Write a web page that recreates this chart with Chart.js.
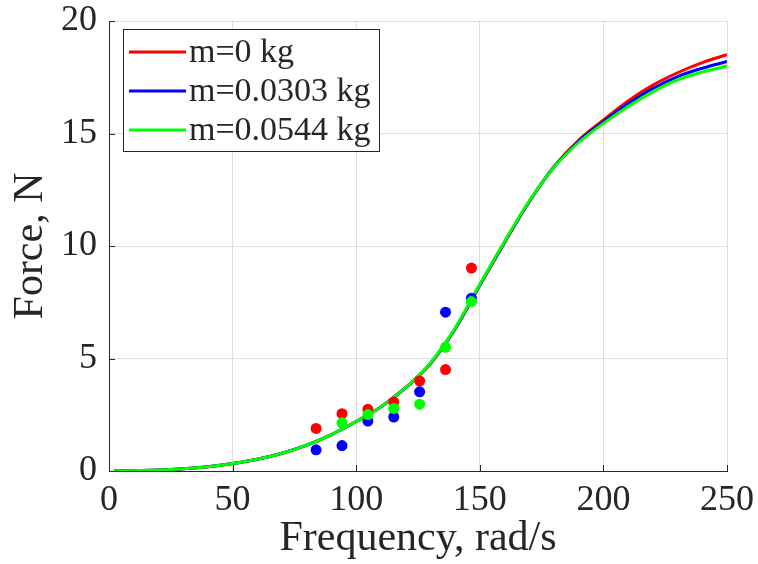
<!DOCTYPE html>
<html>
<head>
<meta charset="utf-8">
<script src="https://cdn.jsdelivr.net/npm/chart.js@4/dist/chart.umd.min.js"></script>
<style>
  html, body { margin: 0; padding: 0; background: #ffffff; }
  #wrap { width: 758px; height: 564px; }
</style>
</head>
<body>
<div id="wrap"><canvas id="c" width="758" height="564"></canvas></div>
<script>
// Model curves: force vs. rotational frequency for three added masses
const curveFreq = [2, 10, 20, 30, 40, 50, 60, 70, 80, 90, 100, 110, 120, 130, 140, 150, 160, 170, 180, 190, 200, 210, 220, 230, 240, 250];
const forceM0    = [0, 0.01, 0.04, 0.10, 0.19, 0.33, 0.52, 0.79, 1.15, 1.62, 2.2, 2.85, 3.7, 4.77, 6.30, 8.25, 10.15, 11.97, 13.52, 14.70, 15.60, 16.45, 17.15, 17.70, 18.15, 18.50];
const forceM0303 = [0, 0.01, 0.04, 0.10, 0.19, 0.33, 0.52, 0.79, 1.15, 1.62, 2.2, 2.85, 3.7, 4.78, 6.32, 8.27, 10.17, 11.98, 13.51, 14.65, 15.52, 16.32, 17.00, 17.53, 17.90, 18.20];
const forceM0544 = [0, 0.01, 0.04, 0.10, 0.19, 0.33, 0.52, 0.79, 1.15, 1.62, 2.2, 2.85, 3.7, 4.80, 6.35, 8.30, 10.20, 12.00, 13.50, 14.60, 15.45, 16.20, 16.85, 17.38, 17.73, 18.00];

// Measured points (800 ... 1400 rpm)
const measFreq     = [83.78, 94.25, 104.72, 115.19, 125.66, 136.14, 146.61];
const measM0       = [1.89, 2.55, 2.74, 3.07, 4.00, 4.51, 9.02];
const measM0303    = [0.94, 1.13, 2.22, 2.40, 3.52, 7.06, 7.68];
const measM0544    = [null, 2.14, 2.51, 2.78, 2.97, 5.50, 7.53];

const seriesLabels = ['m=0 kg', 'm=0.0303 kg', 'm=0.0544 kg'];
const seriesColors = ['#ff0000', '#0000ff', '#00ff00'];

const xTicks = [0, 50, 100, 150, 200, 250];
const yTicks = [0, 5, 10, 15, 20];

const SERIF = '"Liberation Serif", "Times New Roman", serif';
const INK = '#262626';

function pts(xs, ys) {
  const out = [];
  xs.forEach((x, i) => { if (ys[i] !== null) out.push({ x: x, y: ys[i] }); });
  return out;
}

const curves = [forceM0, forceM0303, forceM0544];
const meas = [measM0, measM0303, measM0544];

const datasets = [];
curves.forEach((ys, i) => {
  datasets.push({
    label: seriesLabels[i],
    data: pts(curveFreq, ys),
    showLine: true,
    borderColor: seriesColors[i],
    backgroundColor: seriesColors[i],
    borderWidth: 3,
    pointRadius: 0,
    cubicInterpolationMode: 'monotone',
    order: 5 - i,
    isCurve: true
  });
});
meas.forEach((ys, i) => {
  datasets.push({
    label: seriesLabels[i] + ' (measured)',
    data: pts(measFreq, ys),
    showLine: false,
    pointRadius: 5.5,
    pointBorderWidth: 0,
    pointBackgroundColor: seriesColors[i],
    backgroundColor: seriesColors[i],
    borderColor: seriesColors[i],
    order: 2 - i,
    isCurve: false
  });
});

// Inward tick marks on the left and bottom axes
const innerTicks = {
  id: 'innerTicks',
  afterDatasetsDraw(chart) {
    const { ctx, chartArea: a, scales: { x, y } } = chart;
    ctx.save();
    ctx.strokeStyle = INK;
    ctx.lineWidth = 1;
    ctx.beginPath();
    xTicks.forEach(v => {
      const px = Math.round(x.getPixelForValue(v)) + 0.5;
      ctx.moveTo(px, a.bottom);
      ctx.lineTo(px, a.bottom - 6);
    });
    yTicks.forEach(v => {
      const py = Math.round(y.getPixelForValue(v)) + 0.5;
      ctx.moveTo(a.left, py);
      ctx.lineTo(a.left + 6, py);
    });
    ctx.stroke();
    ctx.restore();
  }
};

// Boxed legend in the upper-left corner of the plot
const boxLegend = {
  id: 'boxLegend',
  afterDraw(chart) {
    const { ctx, chartArea: a } = chart;
    const curveSets = chart.data.datasets.filter(d => d.isCurve);
    const bx = a.left + 14, by = a.top + 8, bw = 256, bh = 122;
    ctx.save();
    ctx.fillStyle = '#ffffff';
    ctx.fillRect(bx, by, bw, bh);
    ctx.strokeStyle = INK;
    ctx.lineWidth = 1;
    ctx.strokeRect(bx + 0.5, by + 0.5, bw, bh);
    ctx.font = '34px ' + SERIF;
    ctx.textBaseline = 'middle';
    ctx.fillStyle = INK;
    curveSets.forEach((d, i) => {
      const ry = by + 23 + i * 39;
      ctx.strokeStyle = d.borderColor;
      ctx.lineWidth = 3;
      ctx.beginPath();
      ctx.moveTo(bx + 6, ry);
      ctx.lineTo(bx + 63, ry);
      ctx.stroke();
      ctx.fillText(d.label, bx + 66, ry + 1);
    });
    ctx.restore();
  }
};

new Chart(document.getElementById('c'), {
  type: 'scatter',
  data: { datasets: datasets },
  plugins: [innerTicks, boxLegend],
  options: {
    responsive: false,
    animation: false,
    devicePixelRatio: 1,
    layout: { padding: { top: 21, right: 31, bottom: 0, left: 0 } },
    plugins: { legend: { display: false }, tooltip: { enabled: false } },
    scales: {
      x: {
        type: 'linear',
        min: 0, max: 250,
        afterBuildTicks(s) { s.ticks = xTicks.map(v => ({ value: v })); },
        afterFit(s) { s.height = 93; s.paddingLeft = 0; s.paddingRight = 0; },
        grid: { color: 'rgba(38,38,38,0.15)', drawTicks: false, lineWidth: 1 },
        border: { display: true, color: INK, width: 1 },
        ticks: { font: { family: SERIF, size: 36 }, color: INK, padding: 8, maxRotation: 0 },
        title: { display: true, text: 'Frequency, rad/s', font: { family: SERIF, size: 42 }, color: INK, padding: { top: 0, bottom: 0 } }
      },
      y: {
        type: 'linear',
        min: 0, max: 20,
        afterBuildTicks(s) { s.ticks = yTicks.map(v => ({ value: v })); },
        afterFit(s) { s.width = 109; s.paddingTop = 0; s.paddingBottom = 0; },
        grid: { color: 'rgba(38,38,38,0.15)', drawTicks: false, lineWidth: 1 },
        border: { display: true, color: INK, width: 1 },
        ticks: { font: { family: SERIF, size: 36 }, color: INK, padding: 12 },
        title: { display: true, text: 'Force, N', font: { family: SERIF, size: 42 }, color: INK, padding: { top: 6, bottom: 0 } }
      }
    }
  }
});
</script>
</body>
</html>
